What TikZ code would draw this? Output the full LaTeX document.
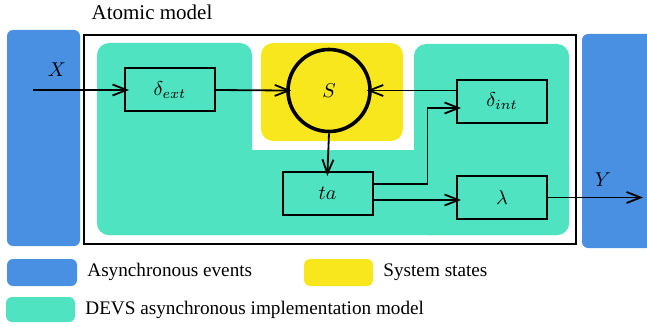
\documentclass[tikz,border=0pt]{standalone}
\usepackage{fontspec}
\setmainfont{Liberation Serif}
\usetikzlibrary{arrows.meta,calc}
\definecolor{evblue}{HTML}{4A90E2}
\definecolor{devsgreen}{HTML}{50E3C2}
\definecolor{stateyellow}{HTML}{F8E71C}
\begin{document}
\begin{tikzpicture}[x=0.5pt,y=-0.5pt,
  every node/.style={font=\fontsize{9.6pt}{11pt}\selectfont},
  fn/.style={draw,line width=1pt,fill=devsgreen,minimum width=45pt,minimum height=21.5pt,inner sep=0pt},
  arr/.style={line width=0.9pt,-{Straight Barb[length=7pt,width=5.5pt,line width=0.9pt]},shorten >=-2.5pt},
  zone/.style={rounded corners=6pt},
  swatch/.style={rounded corners=3pt}]
\useasboundingbox (0,0) rectangle (647,326);
\clip (0,0) rectangle (647,326);

% event bands
\fill[evblue,rounded corners=3pt] (7,30) rectangle (80,246);
\fill[evblue,rounded corners=3pt] (582,34) rectangle (670,248);

% atomic model frame
\node[anchor=center,font=\fontsize{10.5pt}{12pt}\selectfont] (title) at (152,12) {Atomic model};
\draw[line width=1.1pt] (84,35) rectangle (576,244);

% DEVS implementation region (U shape)
\fill[devsgreen,zone] (97,43) rectangle (252,235);
\fill[devsgreen,zone] (414,44) rectangle (569,235);
\fill[devsgreen,zone] (97,150) rectangle (569,235);
\fill[devsgreen] (240,150) rectangle (426,180);

% system states
\fill[stateyellow,zone] (261,43) rectangle (403,141);

% functions and state
\node[fn] (dext) at (170,90) {$\delta_{ext}$};
\node[draw,circle,line width=1.8pt,minimum size=41pt,inner sep=0pt] (S) at (329,90.5) {$S$};
\node[fn] (dint) at (502,101.5) {$\delta_{int}$};
\node[fn] (ta) at (327.5,193.5) {$ta$};
\node[fn] (lam) at (502,197.5) {$\lambda$};

% ports
\coordinate (xin) at (33,90);
\coordinate (yout) at (638,197.5);
\node (xlab) at (57,70) {$X$};
\node (ylab) at (603,180) {$Y$};

% connectors
\draw[arr] (xin) -- (dext.west);
\draw[arr] (dext.east) -- (S.west);
\draw[arr] (dint.west |- S.east) -- (S.east);
\draw[arr] (S.south) -- (ta.north);
\coordinate (ta1) at ([yshift=4.75pt]ta.east);
\coordinate (ta2) at ([yshift=-3.25pt]ta.east);
\draw[arr] (ta1) -- ++(54,0) |- ([yshift=-3.25pt]dint.west);
\draw[arr] (ta2) -- (ta2 -| lam.west);
\draw[arr] (lam.east) -- (yout);

% legend
\fill[evblue,swatch] (7,259) rectangle (77,286);
\node[anchor=west,inner sep=0pt] (lgev) at (87,272) {Asynchronous events};
\fill[stateyellow,swatch] (304,259) rectangle (373,286);
\node[anchor=west,inner sep=0pt] (lgst) at (383,272) {System states};
\fill[devsgreen,swatch] (6,297) rectangle (75,322);
\node[anchor=west,inner sep=0pt] (lgdv) at (85,310) {DEVS asynchronous implementation model};
\end{tikzpicture}
\end{document}
